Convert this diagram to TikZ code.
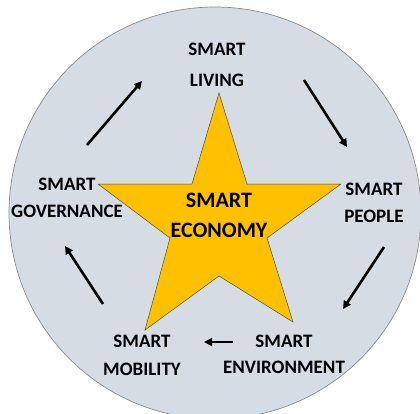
\documentclass[tikz,border=0pt]{standalone}
\usepackage{fontspec}
\setmainfont{Carlito}
\usetikzlibrary{arrows.meta}
\definecolor{circfill}{HTML}{D6DCE4}
\definecolor{circline}{HTML}{8C8C8C}
\definecolor{starfill}{HTML}{FFC000}
\tikzset{
  lbl/.style={anchor=base,inner sep=0pt,font=\bfseries\fontsize{19}{22}\selectfont},
  biglbl/.style={anchor=base,inner sep=0pt,font=\bfseries\fontsize{22}{26}\selectfont},
  flow/.style={line width=2.6pt,-{Triangle[length=8pt,width=8pt]}}
}
\begin{document}
\begin{tikzpicture}[x=1pt,y=-1pt]
\useasboundingbox (0,0) rectangle (420,413);
\begin{scope}
\clip (0,0) rectangle (420,413);
\fill[circfill,draw=circline,line width=0.7pt] (215,213) circle (206);
\end{scope}
\draw[fill=starfill,draw=black!70,line width=0.5pt]
  (219,93) -- (247,184) -- (341,184) -- (267,238) -- (293,322)
  -- (219,276) -- (145,330) -- (170,238) -- (98,184) -- (192,184) -- cycle;
% labels
\node[lbl] (livA) at (217,55) {SMART};
\node[lbl] (livB) at (217,86) {LIVING};
\node[lbl] (peoA) at (374,195) {SMART};
\node[lbl] (peoB) at (374,222) {PEOPLE};
\node[lbl] (envA) at (284,347) {SMART};
\node[lbl] (envB) at (284,373) {ENVIRONMENT};
\node[lbl] (mobA) at (142,347) {SMART};
\node[lbl] (mobB) at (142,375) {MOBILITY};
\node[lbl] (govA) at (67,190) {SMART};
\node[lbl] (govB) at (67,217) {GOVERNANCE};
\node[biglbl] (ecoA) at (219,207) {SMART};
\node[biglbl] (ecoB) at (219,237) {ECONOMY};
% arrows
\coordinate (a1s) at (304,80);  \coordinate (a1e) at (347,147);
\coordinate (a2s) at (384,247); \coordinate (a2e) at (343,309);
\coordinate (a3s) at (233,342); \coordinate (a3e) at (204,342);
\coordinate (a4s) at (103,304); \coordinate (a4e) at (65,246);
\coordinate (a5s) at (87,145);  \coordinate (a5e) at (142,81);
\draw[flow] (a1s) -- (a1e);
\draw[flow] (a2s) -- (a2e);
\draw[flow] (a3s) -- (a3e);
\draw[flow] (a4s) -- (a4e);
\draw[flow] (a5s) -- (a5e);
\end{tikzpicture}
\end{document}
